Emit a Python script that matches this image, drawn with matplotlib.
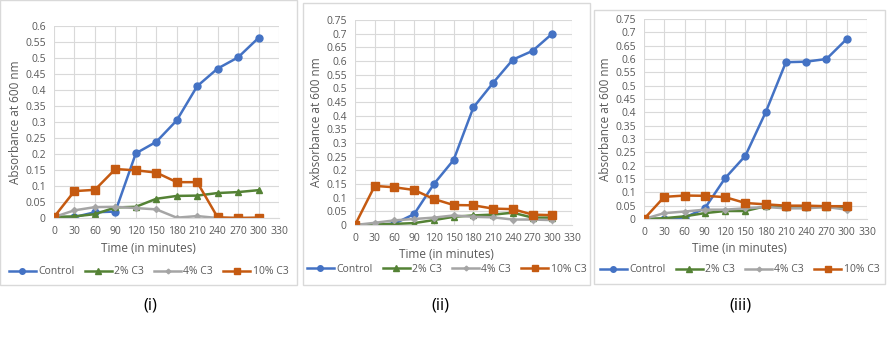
import matplotlib.pyplot as plt
from matplotlib.patches import Rectangle

plt.rcParams['font.family'] = ['Open Sans', 'DejaVu Sans']

# Temps (minutes)
time = [0, 30, 60, 90, 120, 150, 180, 210, 240, 270, 300]
series_names = ['Control', '2% C3', '4% C3', '10% C3']

# Panel (i)
ctrl_1 = [0.003, 0.003, 0.018, 0.020, 0.202, 0.238, 0.305, 0.412, 0.467, 0.502, 0.563]
c2_1 = [0.003, 0.005, 0.012, 0.033, 0.035, 0.060, 0.069, 0.070, 0.078, 0.081, 0.087]
c4_1 = [0.003, 0.024, 0.034, 0.035, 0.031, 0.027, 0.001, 0.006, 0.000, 0.000, 0.000]
c10_1 = [0.003, 0.084, 0.088, 0.153, 0.149, 0.142, 0.112, 0.112, 0.002, 0.000, 0.001]

# Panel (ii)
ctrl_2 = [0.000, 0.000, 0.005, 0.040, 0.150, 0.238, 0.430, 0.520, 0.605, 0.637, 0.700]
c2_2 = [0.000, 0.002, 0.004, 0.007, 0.018, 0.030, 0.035, 0.038, 0.045, 0.027, 0.027]
c4_2 = [0.000, 0.008, 0.017, 0.022, 0.027, 0.035, 0.030, 0.028, 0.020, 0.020, 0.018]
c10_2 = [0.000, 0.143, 0.138, 0.128, 0.095, 0.073, 0.072, 0.060, 0.058, 0.038, 0.036]

# Panel (iii)
ctrl_3 = [0.000, 0.000, 0.005, 0.040, 0.153, 0.237, 0.400, 0.588, 0.590, 0.600, 0.675]
c2_3 = [0.000, 0.003, 0.010, 0.022, 0.030, 0.030, 0.048, 0.045, 0.045, 0.045, 0.045]
c4_3 = [0.000, 0.022, 0.028, 0.035, 0.035, 0.040, 0.045, 0.040, 0.040, 0.045, 0.035]
c10_3 = [0.000, 0.083, 0.088, 0.087, 0.082, 0.060, 0.055, 0.050, 0.050, 0.048, 0.048]

colors = ['#4472C4', '#548235', '#A5A5A5', '#C55A11']
markers = ['o', '^', 'D', 's']
msizes = [5, 5, 3, 6]

W, H = 891, 339
fig = plt.figure(figsize=(W / 100, H / 100), dpi=100)


def px_axes(left, top, right, bottom):
    return fig.add_axes([left / W, 1 - bottom / H, (right - left) / W, (bottom - top) / H])


def draw_panel(box, axbox, data, ymax, ylabel, xlab_y, leg_y, tag, tag_x):
    # cadre gris du graphique
    x0, y0, x1, y1 = box
    fig.patches.append(Rectangle((x0 / W, 1 - y1 / H), (x1 - x0) / W, (y1 - y0) / H,
                                 transform=fig.transFigure, fill=False,
                                 edgecolor='#D9D9D9', linewidth=1))
    ax = px_axes(*axbox)
    for vals, name, c, m, ms in zip(data, series_names, colors, markers, msizes):
        ax.plot(time, vals, color=c, marker=m, markersize=ms, linewidth=1.8, label=name)
    ax.set_xlim(0, 330)
    ax.set_ylim(0, ymax)
    ax.set_xticks(range(0, 331, 30))
    yt = [i * 0.05 for i in range(int(round(ymax / 0.05)) + 1)]
    ax.set_yticks(yt)
    ax.set_yticklabels(['0' if v == 0 else ('%.2f' % v).rstrip('0') for v in yt])
    ax.grid(True, color='#D9D9D9', linewidth=0.8)
    ax.set_axisbelow(True)
    for s in ['top', 'right', 'left']:
        ax.spines[s].set_visible(False)
    ax.spines['bottom'].set_color('#D9D9D9')
    ax.tick_params(length=0, labelsize=7.5, colors='#595959', pad=6)
    ax.set_ylabel(ylabel, fontsize=8.5, color='#595959', labelpad=2)
    cx = (x0 + x1) / 2
    fig.text(cx / W, 1 - xlab_y / H, 'Time (in minutes)', ha='center', va='center',
             fontsize=8.5, color='#595959')
    leg = ax.legend(loc='center', bbox_to_anchor=(cx / W, 1 - leg_y / H),
                    bbox_transform=fig.transFigure, ncol=4, frameon=False,
                    fontsize=7.5, handlelength=2.6, columnspacing=1.0,
                    handletextpad=0.2, markerscale=0.8)
    for t in leg.get_texts():
        t.set_color('#595959')
    fig.text(tag_x / W, 1 - 306 / H, tag, ha='center', va='center', fontsize=12, color='black')


draw_panel((0, 0, 297, 285), (54, 26, 279, 218), [ctrl_1, c2_1, c4_1, c10_1], 0.6,
           'Absorbance at 600 nm', 249, 272, '(i)', 150)
draw_panel((303, 3, 590, 285), (355, 20, 572, 225), [ctrl_2, c2_2, c4_2, c10_2], 0.75,
           'Axbsorbance at 600 nm', 254, 269, '(ii)', 440)
draw_panel((594, 10, 885, 284), (644, 19, 867, 219), [ctrl_3, c2_3, c4_3, c10_3], 0.75,
           'Absorbance at 600 nm', 248, 270, '(iii)', 740)

fig.savefig('out.png', dpi=100)
